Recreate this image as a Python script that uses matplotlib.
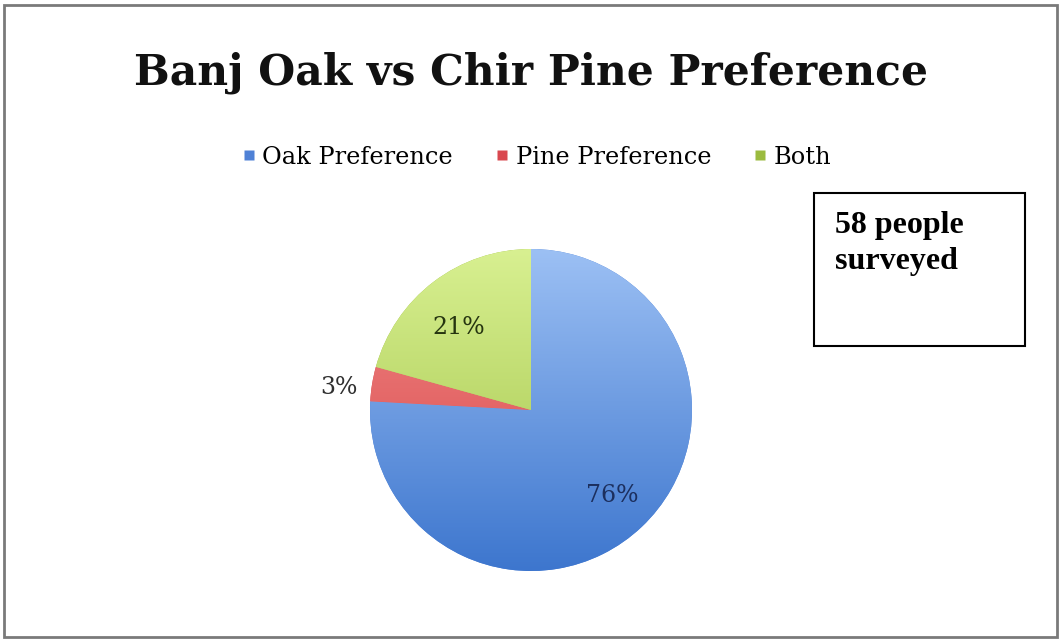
import matplotlib
matplotlib.use("Agg")
import matplotlib.pyplot as plt
import numpy as np
from matplotlib.colors import LinearSegmentedColormap
from matplotlib.patches import Rectangle
from matplotlib.lines import Line2D

# Survey data
categories = ["Oak Preference", "Pine Preference", "Both"]
counts = [44, 2, 12]
title = "Banj Oak vs Chir Pine Preference"
note = "58 people\nsurveyed"

top_colors = ["#9cc0f4", "#ef8a8a", "#d8f091"]
bottom_colors = ["#3d76ce", "#d94242", "#9fc145"]
legend_colors = ["#4f81d6", "#d9484f", "#9bbb3f"]

W, H = 1061, 640
fig = plt.figure(figsize=(W / 100, H / 100), dpi=100)
fig.patch.set_facecolor("white")

# outer frame
fig.add_artist(Rectangle((4 / W, 3 / H), 1053 / W, 632 / H, transform=fig.transFigure,
                         fill=False, edgecolor="#7a7a7a", linewidth=2))

# pie axes: centre (531, 410) px, radius 161 px
cx, cy, r = 531, 410, 161
ax = fig.add_axes([(cx - r) / W, (H - cy - r) / H, 2 * r / W, 2 * r / H])
wedges, _ = ax.pie(counts, startangle=90, counterclock=False, radius=1,
                   colors=legend_colors, wedgeprops=dict(linewidth=0))
ax.set_xlim(-1, 1)
ax.set_ylim(-1, 1)
ax.set_aspect("equal")
ax.axis("off")

# vertical gradient fill in each wedge
grad = np.linspace(1, 0, 256).reshape(-1, 1)
for w, tc, bc in zip(wedges, top_colors, bottom_colors):
    cmap = LinearSegmentedColormap.from_list("g", [bc, tc])
    im = ax.imshow(grad, cmap=cmap, extent=[-1, 1, -1, 1], origin="upper",
                   aspect="auto", zorder=2)
    im.set_clip_path(w)

# percentage labels (radial distance and small angular nudge per wedge)
total = sum(counts)
label_dist = [0.73, 1.2, 0.68]
label_nudge = [0.0, 2.5, 4.0]
label_colors = ["#1c2f5e", "#303030", "#263510"]
for w, c, d, s, lc in zip(wedges, counts, label_dist, label_nudge, label_colors):
    mid = np.deg2rad((w.theta1 + w.theta2) / 2 + s)
    ax.text(d * np.cos(mid), d * np.sin(mid), f"{round(100 * c / total)}%",
            ha="center", va="center", fontsize=17, family="DejaVu Serif",
            color=lc, zorder=5)

# title
fig.text(0.5, 1 - 73 / H, title, ha="center", va="center", fontsize=30.5,
         fontweight="bold", family="DejaVu Serif", color="#111111")

# legend
handles = [Line2D([], [], marker="s", linestyle="none", markersize=7.5,
                  markerfacecolor=c, markeredgecolor="none") for c in legend_colors]
fig.legend(handles, categories, loc="center", bbox_to_anchor=(536 / W, 1 - 157 / H),
           ncol=3, frameon=False, handletextpad=0.2, columnspacing=1.7,
           prop=dict(family="DejaVu Serif", size=17.3), handlelength=0.7)

# note box
fig.add_artist(Rectangle((814 / W, (H - 346) / H), 211 / W, 153 / H,
                         transform=fig.transFigure, fill=False,
                         edgecolor="black", linewidth=1.5))
fig.text(835 / W, 1 - 211 / H, note, ha="left", va="top", fontsize=23,
         fontweight="bold", family="Liberation Serif", linespacing=1.3)

fig.savefig("out.png", dpi=100)
